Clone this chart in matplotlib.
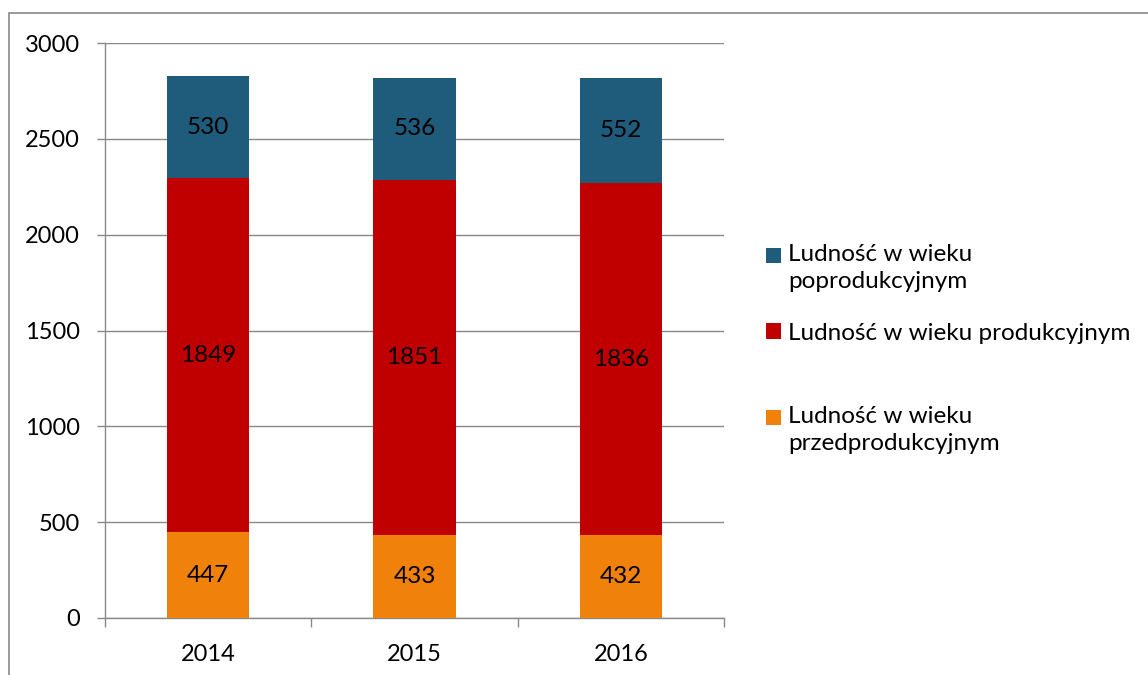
import matplotlib
matplotlib.use("Agg")
import matplotlib.pyplot as plt
from matplotlib.patches import Rectangle
from matplotlib.legend_handler import HandlerPatch
import numpy as np

plt.rcParams['font.family'] = ['Lato', 'DejaVu Sans']

# dane
lata = ['2014', '2015', '2016']
przed = [447, 433, 432]
prod = [1849, 1851, 1836]
poprod = [530, 536, 552]
etykiety = ['Ludność w wieku\npoprodukcyjnym',
            'Ludność w wieku produkcyjnym',
            'Ludność w wieku\nprzedprodukcyjnym']

kolory = ['#F0820C', '#C00000', '#1F5B7B']
szary = '#898989'

fig = plt.figure(figsize=(11.48, 6.75), dpi=100)
ax = fig.add_axes([105 / 1148, 1 - 618 / 675, (724 - 105) / 1148, (618 - 43) / 675])

x = np.arange(len(lata))
b1 = ax.bar(x, przed, width=0.4, color=kolory[0], zorder=3)
b2 = ax.bar(x, prod, width=0.4, bottom=przed, color=kolory[1], zorder=3)
dol = np.array(przed) + np.array(prod)
b3 = ax.bar(x, poprod, width=0.4, bottom=dol, color=kolory[2], zorder=3)

for bars in (b1, b2, b3):
    ax.bar_label(bars, label_type='center', fontsize=17.5, color='black')

ax.set_xlim(-0.5, 2.5)
ax.set_ylim(0, 3000)
ax.set_yticks(range(0, 3001, 500))
ax.set_xticks(x)
ax.set_xticklabels(lata)
ax.set_xticks([-0.5, 0.5, 1.5, 2.5], minor=True)
ax.tick_params(axis='x', which='major', length=0, pad=19, labelsize=17)
ax.tick_params(axis='x', which='minor', length=6.5, color=szary, width=1)
ax.tick_params(axis='y', length=6, color=szary, width=1, labelsize=17, pad=12)
ax.yaxis.grid(True, color=szary, linewidth=1, zorder=0)
for s in ('top', 'right'):
    ax.spines[s].set_visible(False)
for s in ('left', 'bottom'):
    ax.spines[s].set_color(szary)
    ax.spines[s].set_linewidth(1)


# kwadracik przy pierwszej linii opisu (jak w Excelu)
def kwadrat_u_gory(legend, orig_handle, xdescent, ydescent, width, height, fontsize):
    s = 0.62 * fontsize
    top = height - ydescent
    return Rectangle((-xdescent, top - 0.42 * fontsize - s / 2), s, s)


# legenda - kazdy wpis osobno
srodki = [268, 333, 430]
for h, lab, y in zip([b3, b2, b1], etykiety, srodki):
    p = h.patches[0]
    dwie = '\n' in lab
    kw = dict(handleheight=2.6, handler_map={p: HandlerPatch(patch_func=kwadrat_u_gory)}) if dwie \
        else dict(handleheight=0.62)
    leg = fig.legend([p], [lab], loc='center left',
                     bbox_to_anchor=(766 / 1148, 1 - y / 675), frameon=False,
                     fontsize=17.5, handlelength=0.62,
                     handletextpad=0.3, borderpad=0, borderaxespad=0, **kw)
    for t in leg.get_texts():
        t.set_linespacing(1.36)

fig.patches.append(Rectangle((9 / 1148, -0.1), 1.2, 1.1 - 13 / 675,
                             transform=fig.transFigure, fill=False,
                             edgecolor=szary, linewidth=1.2))

fig.savefig('out.png', dpi=100)
